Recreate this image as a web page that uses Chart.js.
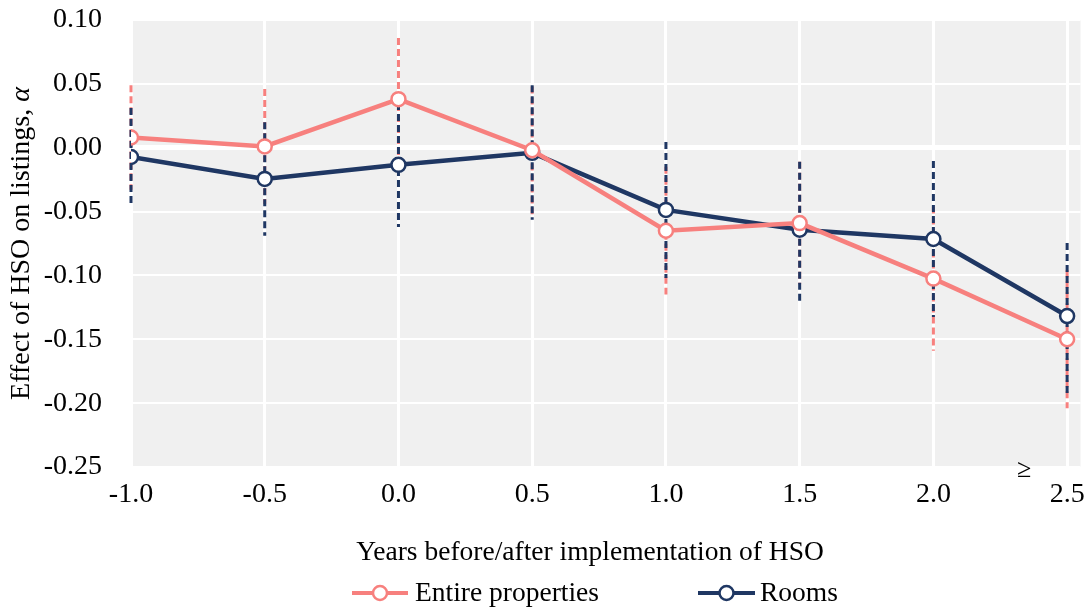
<!DOCTYPE html>
<html><head><meta charset="utf-8">
<script src="https://cdn.jsdelivr.net/npm/chart.js@4.4.1/dist/chart.umd.min.js"></script>
<style>html,body{margin:0;padding:0;background:#fff}#wrap{width:1090px;height:610px}</style>
</head><body><div id="wrap"><canvas id="c" width="1090" height="610"></canvas></div>
<script>
// ---- data ----
const years = [-1.0, -0.5, 0.0, 0.5, 1.0, 1.5, 2.0, 2.5];
const xTicks = [-1.0, -0.5, 0.0, 0.5, 1.0, 1.5, 2.0, 2.5];
const yTicks = [-0.25, -0.20, -0.15, -0.10, -0.05, 0.00, 0.05, 0.10];
const entire     = [0.008, 0.001, 0.038, -0.002, -0.065, -0.059, -0.1025, -0.150];
const entireLow  = [-0.033, -0.044, -0.010, -0.052, -0.115, -0.107, -0.159, -0.204];
const entireHigh = [0.049, 0.046, 0.086, 0.048, -0.015, -0.011, -0.046, -0.096];
const rooms      = [-0.0073, -0.0244, -0.0134, -0.004, -0.0487, -0.0642, -0.0715, -0.1318];
const roomsLow   = [-0.0454, -0.069, -0.062, -0.0564, -0.102, -0.121, -0.1325, -0.193];
const roomsHigh  = [0.031, 0.020, 0.035, 0.049, 0.0045, -0.011, -0.0105, -0.0747];
const seriesNames = ["Entire properties", "Rooms"];
const xTitle = "Years before/after implementation of HSO";
const yTitleMain = "Effect of HSO on listings, ";
const yTitleSym = "α";

const PINK = "#F7807E", NAVY = "#1F3763";
const FONT = "'Liberation Serif', 'Times New Roman', serif";

const bgPlugin = {
  id: 'bg',
  beforeDraw(chart) {
    const {ctx, chartArea: a} = chart;
    ctx.save(); ctx.fillStyle = '#f0f0f0';
    ctx.fillRect(a.left, a.top, a.right - a.left, a.bottom - a.top);
    ctx.restore();
  }
};

const errPlugin = {
  id: 'err',
  beforeDatasetsDraw(chart) {
    const {ctx} = chart, xs = chart.scales.x, ys = chart.scales.y;
    const sets = [[entireLow, entireHigh, PINK], [roomsLow, roomsHigh, NAVY]];
    ctx.save();
    ctx.lineWidth = 3; ctx.setLineDash([7, 4]);
    sets.forEach(([lo, hi, col]) => {
      ctx.strokeStyle = col;
      years.forEach((x, i) => {
        const px = xs.getPixelForValue(x);
        ctx.beginPath();
        ctx.moveTo(px, ys.getPixelForValue(hi[i]));
        ctx.lineTo(px, ys.getPixelForValue(lo[i]));
        ctx.stroke();
      });
    });
    ctx.restore();
  }
};

const extrasPlugin = {
  id: 'extras',
  afterDraw(chart) {
    const {ctx, chartArea: a} = chart, xs = chart.scales.x;
    ctx.save();
    ctx.fillStyle = '#000';
    ctx.textAlign = 'center'; ctx.textBaseline = 'middle';
    // ">=" marker near last tick
    ctx.font = "26px " + FONT;
    ctx.fillText('≥', xs.getPixelForValue(2.5) - 43, 470);
    // x title
    ctx.font = "27.5px " + FONT;
    ctx.fillText(xTitle, 590, 553);
    // y title with italic alpha
    ctx.save();
    ctx.translate(22, (a.top + a.bottom) / 2);
    ctx.rotate(-Math.PI / 2);
    ctx.font = "28px " + FONT;
    const w1 = ctx.measureText(yTitleMain).width;
    ctx.font = "italic 28px " + FONT;
    const w2 = ctx.measureText(yTitleSym).width;
    ctx.textAlign = 'left';
    ctx.font = "28px " + FONT;
    ctx.fillText(yTitleMain, -(w1 + w2) / 2, 0);
    ctx.font = "italic 28px " + FONT;
    ctx.fillText(yTitleSym, -(w1 + w2) / 2 + w1, 0);
    ctx.restore();
    // legend
    const y = 593;
    const items = [[352, 408, PINK, seriesNames[0], 415], [698, 755, NAVY, seriesNames[1], 760]];
    items.forEach(([x1, x2, col, txt, tx]) => {
      ctx.strokeStyle = col; ctx.lineWidth = 4;
      ctx.beginPath(); ctx.moveTo(x1, y); ctx.lineTo(x2, y); ctx.stroke();
      ctx.beginPath(); ctx.arc((x1 + x2) / 2, y, 7, 0, Math.PI * 2);
      ctx.fillStyle = '#fff'; ctx.fill(); ctx.lineWidth = 2.5; ctx.stroke();
      ctx.fillStyle = '#000'; ctx.font = "27.5px " + FONT;
      ctx.textAlign = 'left'; ctx.textBaseline = 'middle';
      ctx.fillText(txt, tx, y + 1);
    });
    ctx.restore();
  }
};

const toXY = arr => arr.map((v, i) => ({x: years[i], y: v}));

new Chart(document.getElementById('c'), {
  type: 'line',
  data: {
    datasets: [
      {label: seriesNames[0], data: toXY(entire), borderColor: PINK, borderWidth: 4.5,
       pointRadius: 7, pointBorderWidth: 2.5, pointBackgroundColor: '#fff', pointBorderColor: PINK, tension: 0},
      {label: seriesNames[1], data: toXY(rooms), borderColor: NAVY, borderWidth: 4.5,
       pointRadius: 7, pointBorderWidth: 2.5, pointBackgroundColor: '#fff', pointBorderColor: NAVY, tension: 0}
    ]
  },
  options: {
    responsive: false, animation: false, devicePixelRatio: 1,
    layout: {padding: {top: 20, right: 8, bottom: 41, left: 0}},
    plugins: {legend: {display: false}, tooltip: {enabled: false}},
    scales: {
      x: {
        type: 'linear', min: -1.0, max: 2.55,
        afterBuildTicks: s => { s.ticks = xTicks.map(v => ({value: v})); },
        afterFit: s => { s.height = 102; s.paddingLeft = 0; s.paddingRight = 0; },
        ticks: {callback: v => Number(v).toFixed(1), font: {family: FONT, size: 28}, color: '#000', padding: 11, maxRotation: 0, autoSkip: false},
        grid: {color: '#fff', lineWidth: 3, drawTicks: false},
        border: {display: false}
      },
      y: {
        type: 'linear', min: -0.25, max: 0.10,
        afterBuildTicks: s => { s.ticks = yTicks.map(v => ({value: v})); },
        afterFit: s => { s.width = 131; s.paddingTop = 0; s.paddingBottom = 0; },
        ticks: {callback: v => Number(v).toFixed(2), font: {family: FONT, size: 28}, color: '#000', padding: 29},
        grid: {color: '#fff', lineWidth: c => (c.tick && Math.abs(c.tick.value) < 1e-9) ? 5 : 2, drawTicks: false},
        border: {display: false}
      }
    }
  },
  plugins: [bgPlugin, errPlugin, extrasPlugin]
});
</script>
</body></html>
